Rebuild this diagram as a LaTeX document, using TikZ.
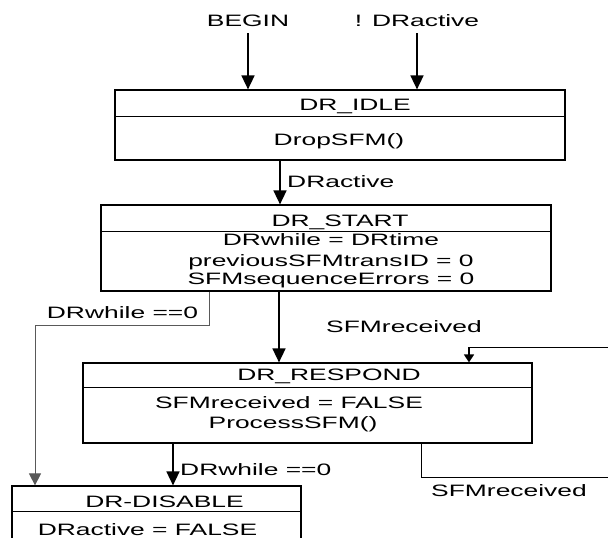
\documentclass[tikz,border=0pt]{standalone}
\usepackage{fontspec}
\setmainfont{Liberation Sans}[FakeStretch=1.6]
\usetikzlibrary{arrows.meta}
\begin{document}
\begin{tikzpicture}[x=1pt,y=-1pt,
  font=\fontsize{16.5}{20}\selectfont,
  box/.style={draw, line width=1.2pt, fill=white, inner sep=0pt},
  divline/.style={line width=1.2pt},
  lbl/.style={anchor=base, inner sep=0pt},
  arr/.style={line width=1.6pt, -{Triangle[width=13pt,length=14pt]}},
  thinline/.style={line width=0.9pt, draw=black!65},
  thinarr/.style={thinline, -{Triangle[width=12pt,length=12pt]}},
  loopline/.style={line width=1pt},
  looparr/.style={line width=1.6pt, -{Triangle[width=10pt,length=8pt]}}]

\fill[white] (0,0) rectangle (608,538);
\useasboundingbox (0,0) rectangle (608,538);
\clip (0,0) rectangle (608,538);

% boxes
\node[box, minimum width=450pt, minimum height=70pt] (idle) at (340,125) {};
\draw[divline] ([yshift=-27pt]idle.north west) -- ([yshift=-27pt]idle.north east);
\node[box, minimum width=450pt, minimum height=86pt] (start) at (326,248) {};
\draw[divline] ([yshift=-27pt]start.north west) -- ([yshift=-27pt]start.north east);
\node[box, minimum width=449pt, minimum height=80pt] (respond) at (307.5,403) {};
\draw[divline] ([yshift=-25pt]respond.north west) -- ([yshift=-25pt]respond.north east);
\node[box, minimum width=289pt, minimum height=74pt] (disable) at (156.5,523) {};
\draw[divline] ([yshift=-26pt]disable.north west) -- ([yshift=-26pt]disable.north east);

% box texts
\node[lbl] (tidle) at (355,110) {DR\_IDLE};
\node[lbl] (tdrop) at (339,145) {DropSFM()};
\node[lbl] (tstart) at (340,226) {DR\_START};
\node[lbl] (tst1) at (331,245) {DRwhile = DRtime};
\node[lbl] (tst2) at (331,266) {previousSFMtransID = 0};
\node[lbl] (tst3) at (331,284.5) {SFMsequenceErrors = 0};
\node[lbl] (tresp) at (329,380) {DR\_RESPOND};
\node[lbl] (tre1) at (289,408) {SFMreceived = FALSE};
\node[lbl] (tre2) at (293,428) {ProcessSFM()};
\node[lbl] (tdis) at (164.5,507) {DR-DISABLE};
\node[lbl] (tdi1) at (147.5,535.5) {DRactive = FALSE};

% labels
\node[lbl] (tbegin) at (248,27) {BEGIN};
\node[lbl] (tnot) at (417,27) {! DRactive};
\node[lbl, anchor=base west] (lact) at (287,187) {DRactive};
\node[lbl] (lwhile1) at (122.5,318) {DRwhile ==0};
\node[lbl] (lsfm1) at (404,332) {SFMreceived};
\node[lbl, anchor=base west] (lwhile2) at (180,475) {DRwhile ==0};
\node[lbl] (lsfm2) at (509,496) {SFMreceived};

% helper coordinates
\coordinate (xa) at (280,0);
\coordinate (xm) at (279,0);
\coordinate (xw) at (209,0);
\coordinate (cw) at (35,325);
\coordinate (xd) at (173,0);
\coordinate (l1) at (421,477);
\coordinate (l2) at (640,347);
\coordinate (l3) at (469,0);

% connectors
\draw[arr] ([yshift=-6pt]tbegin.south) -- (tbegin.south |- idle.north);
\draw[arr] ([yshift=-6pt]tnot.south) -- (tnot.south |- idle.north);
\draw[arr] (idle.south -| xa) -- (start.north -| xa);
\draw[arr] (start.south -| xm) -- (respond.north -| xm);
\draw[thinarr] (start.south -| xw) |- (cw) -- (disable.north -| cw);
\draw[arr] (respond.south -| xd) -- (disable.north -| xd);
\draw[loopline] (respond.south -| l1) -- (l1) -- (l1 -| l2) -- (l2) -- (l2 -| l3);
\draw[looparr] (l2 -| l3) -- (respond.north -| l3);
\end{tikzpicture}
\end{document}
